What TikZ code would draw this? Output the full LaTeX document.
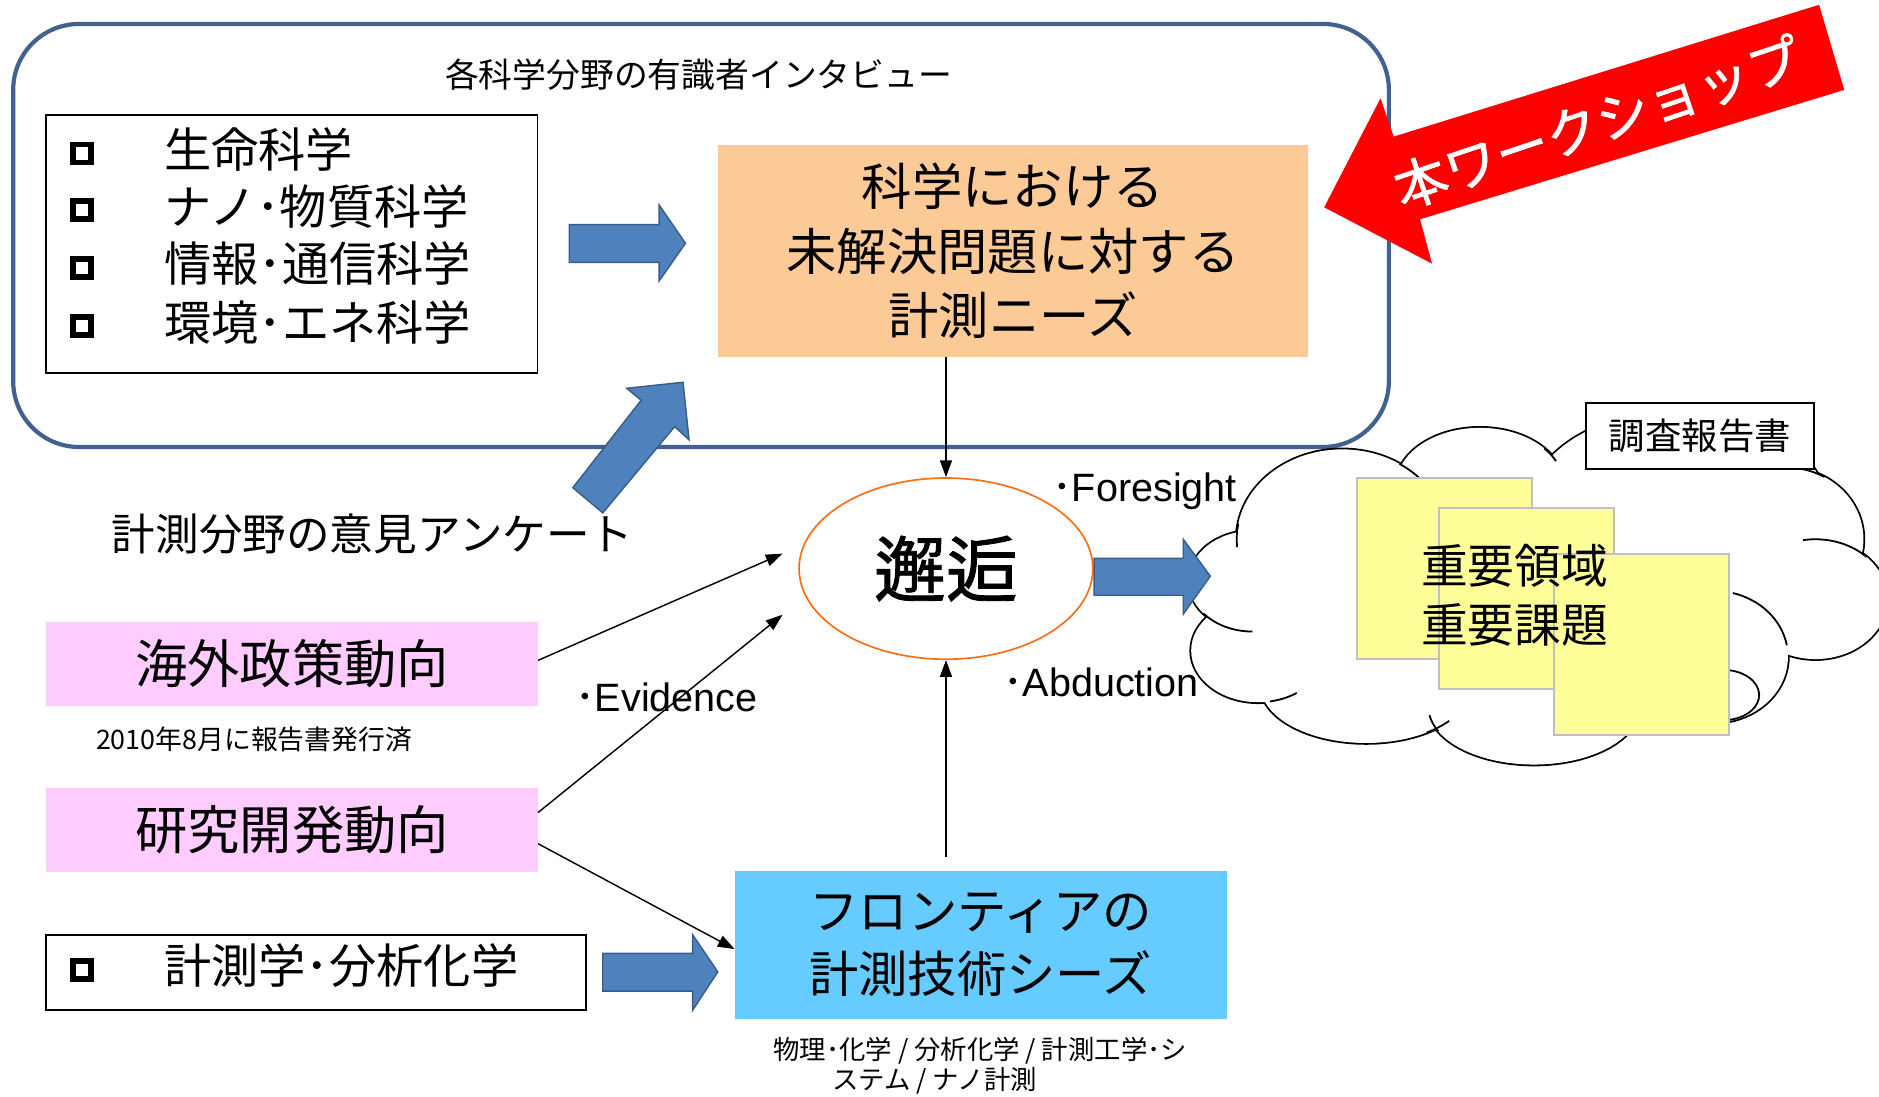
\documentclass[tikz,border=0pt]{standalone}
\usepackage{fontspec}
\setmainfont{Noto Sans CJK JP}
\newfontfamily\lat{Liberation Sans}
\newfontfamily\cjkbold{Noto Sans CJK JP}[FakeBold=1.2]
\usetikzlibrary{shapes.geometric,arrows.meta}
\definecolor{rectC}{RGB}{65,98,143}
\definecolor{arrF}{RGB}{79,129,189}
\definecolor{arrD}{RGB}{56,93,138}
\definecolor{needC}{RGB}{252,202,150}
\definecolor{pinkC}{RGB}{255,204,255}
\definecolor{frontC}{RGB}{102,204,255}
\definecolor{noteC}{RGB}{255,255,153}
\definecolor{noteB}{RGB}{192,192,192}
\definecolor{encC}{RGB}{250,110,20}
\newcommand\myfs[2]{\fontsize{#1pt}{#2pt}\selectfont}
\begin{document}
\begin{tikzpicture}[x=0.5pt,y=-0.5pt,
  txt/.style={inner sep=0pt,outer sep=0pt},
  arr/.style={line width=0.6pt,-{Triangle[length=7pt,width=5pt]}},
  blk/.style={fill=arrF,draw=arrD,line width=0.6pt},
  bul/.style={draw,line width=2.3pt,minimum size=7.5pt,inner sep=0pt},
  box/.style={inner sep=0pt,outer sep=0pt},
  note/.style={box,fill=noteC,draw=noteB,line width=0.9pt,minimum width=73pt,minimum height=75.5pt}]
\useasboundingbox (0,0) rectangle (1568,915.4);

% frame
\node[box,draw=rectC,line width=1.75pt,rounded corners=27.5pt,minimum width=574pt,minimum height=176.5pt] (frame) at (585,196.5) {};
\node[txt,font=\myfs{14.1}{17}] (title) at (583,62) {各科学分野の有識者インタビュー};

% list box
\node[box,draw,line width=0.8pt,minimum width=205pt,minimum height=107.6pt] (listbox) at (243.5,203.35) {};
\node[bul] (b1) at (68.5,128.1) {};
\node[bul] (b2) at (68.5,175.3) {};
\node[bul] (b3) at (68.5,223.6) {};
\node[bul] (b4) at (68.5,271.9) {};
\node[txt,anchor=west,font=\myfs{19.7}{24}] (i1) at (137,124.5) {生命科学};
\node[txt,anchor=west,font=\myfs{19.7}{24}] (i2) at (137,172) {ナノ･物質科学};
\node[txt,anchor=west,font=\myfs{19.7}{24}] (i3) at (137,220) {情報･通信科学};
\node[txt,anchor=west,font=\myfs{19.7}{24}] (i4) at (137,269) {環境･エネ科学};

\draw[blk] (475,187.4) -- (550,187.4) -- (550,171) -- (572,203) -- (550,234.5) -- (550,219) -- (475,219) -- cycle;

% needs
\node[box,fill=needC,minimum width=246.3pt,minimum height=88.5pt,align=center,font=\myfs{21}{27}] (needs) at (845.3,209.5) {科学における\\未解決問題に対する\\計測ニーズ};

% red arrow
\fill[red] (1105,173) -- (1152,82) -- (1163,114) -- (1518,4) -- (1539,75) -- (1185,183) -- (1195,220) -- cycle;
\node[txt,white,rotate=18.6,font=\cjkbold\myfs{22.2}{26}] (ws) at (1333,102) {本ワークショップ};

% diagonal up arrow
\draw[blk] (478,407) -- (535,334) -- (523,324) -- (570,319) -- (575,367) -- (563,356) -- (503,428) -- cycle;
\node[txt,font=\myfs{18.2}{22}] (survey) at (311,446) {計測分野の意見アンケート};

% cloud
\begin{scope}
\clip (0,0) rectangle (1568,915.4);
\foreach \cx/\cy/\rx/\ry in {1045/485/53/42,1050/543/56/43,1140/572/88/48,1280/590/88/48,1400/570/50/40,1430/548/62/55,1515/500/60/50,1400/425/125/82,1490/450/65/60,1235/405/70/48,1120/450/88/75}
  \draw[line width=1.5pt] (\cx,\cy) ellipse[x radius=\rx,y radius=\ry];
\foreach \cx/\cy/\rx/\ry in {1045/485/53/42,1050/543/56/43,1140/572/88/48,1280/590/88/48,1400/570/50/40,1430/548/62/55,1515/500/60/50,1400/425/125/82,1490/450/65/60,1235/405/70/48,1120/450/88/75}
  \fill[white] (\cx,\cy) ellipse[x radius=\rx,y radius=\ry];
\fill[white] (1270,490) ellipse[x radius=230,y radius=110];
\foreach \cx/\cy/\rx/\ry/\a/\b in {1120/450/88/75/-57/-40,1235/405/70/48/-40/-25,1515/500/60/50/-100/-45,1430/548/62/55/-75/-10,1438/580/30/21/-80/80,1045/485/53/42/90/140,1120/450/88/75/175/190,1050/543/56/43/55/80,1140/572/88/48/38/55,1280/590/88/48/155/172,1490/450/65/60/-95/-60}
  \draw[line width=0.75pt] (\cx,\cy) ++(\a:{\rx} and {\ry}) arc[start angle=\a,end angle=\b,x radius=\rx,y radius=\ry];
\end{scope}

\node[note] (n1) at (1205.5,474.5) {};
\node[note] (n2) at (1273.5,499.5) {};
\node[note] (n3) at (1369.5,537.85) {};
\node[txt,align=center,font=\myfs{19.5}{24.5}] (imp) at (1264,496.5) {重要領域\\重要課題};
\node[box,draw,fill=white,line width=0.8pt,minimum width=95pt,minimum height=27.8pt,font=\myfs{15.2}{18}] (rep) at (1418.5,363.8) {調査報告書};

% encounter
\node[ellipse,draw=encC,line width=0.7pt,minimum width=122.6pt,minimum height=75.6pt,inner sep=0pt,font=\cjkbold\myfs{30}{36}] (enc) at (789.4,474.5) {邂逅};
\draw[blk] (913,466) -- (987.4,466) -- (987.4,450) -- (1010,480.8) -- (987.4,512.5) -- (987.4,496.7) -- (913,496.7) -- cycle;

\node[txt,anchor=base west,font=\myfs{16.5}{20}] (fore) at (878,418.6) {･{\lat Foresight}};
\node[txt,anchor=base west,font=\myfs{16.5}{20}] (abd) at (837,581.4) {･{\lat Abduction}};
\node[txt,anchor=base west,font=\myfs{16.5}{20}] (evi) at (480,594) {･{\lat Evidence}};

% pink boxes
\node[box,fill=pinkC,minimum width=205.25pt,minimum height=35.15pt,font=\myfs{21.8}{26}] (kaigai) at (243.75,553.85) {海外政策動向};
\node[txt,font=\myfs{11.2}{14}] (pub) at (212,617) {2010年8月に報告書発行済};
\node[box,fill=pinkC,minimum width=205.25pt,minimum height=34.85pt,font=\myfs{21.8}{26}] (kenkyu) at (243.75,692.65) {研究開発動向};

% measurement box
\node[box,draw,line width=0.8pt,minimum width=225.25pt,minimum height=31.5pt] (meas) at (263.75,811.5) {};
\node[bul] (b5) at (68.5,809.5) {};
\node[txt,anchor=west,font=\myfs{19.7}{24}] (i5) at (137,805.5) {計測学･分析化学};
\draw[blk] (503,795.5) -- (578,795.5) -- (578,780) -- (599,811) -- (578,843) -- (578,827) -- (503,827) -- cycle;

% frontier
\node[box,fill=frontC,minimum width=205.3pt,minimum height=61.5pt,align=center,font=\myfs{20.6}{26.5}] (front) at (818.3,788.5) {フロンティアの\\計測技術シーズ};
\node[txt,font=\myfs{11}{13}] (cap1) at (818,877) {物理･化学 / 分析化学 / 計測工学･シ};
\node[txt,font=\myfs{11}{13}] (cap2) at (780,902) {ステム / ナノ計測};

% connectors
\coordinate (t1) at (653,462);
\coordinate (t2) at (653,513);
\coordinate (fb) at (789.4,715);
\draw[arr] ([yshift=1.4pt]kaigai.east) -- (t1);
\draw[arr] ([yshift=7.3pt]kenkyu.east) -- (t2);
\draw[arr] ([yshift=-5.7pt]kenkyu.east) -- ([yshift=-1.75pt]front.west);
\draw[arr] (needs.south -| enc.north) -- (enc.north);
\draw[arr] (fb) -- (enc.south);
\end{tikzpicture}
\end{document}
